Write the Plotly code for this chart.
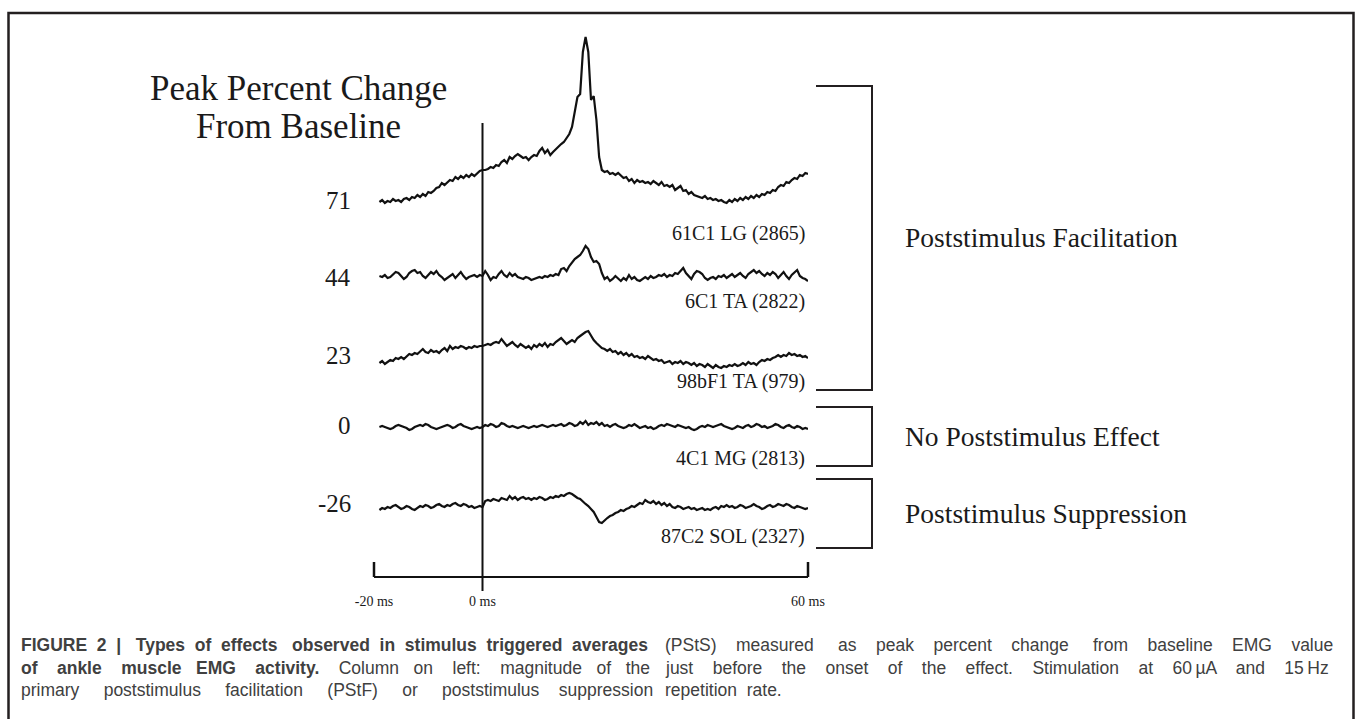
import plotly.graph_objects as go

W, H = 1355, 719

# ---------------- data (trace deflections, arbitrary units, 0.5 ms bins from -19 ms) -------------
lg_61c1 = [0, 2, -1, 1, 0, 3, 1, 2, 0, 3, 4, 2, 5, 4, 7, 5, 8, 6, 10, 9, 11, 14, 15, 19, 17, 20, 22, 21,
           25, 23, 26, 24, 27, 25, 28, 26, 29, 31, 32, 32, 33, 35, 34, 37, 36, 40, 42, 39, 45, 43, 46, 48,
           46, 44, 45, 42, 45, 47, 46, 51, 54, 49, 52, 47, 50, 53, 56, 58, 60, 64, 68, 75, 90, 105, 108,
           150, 165, 150, 102, 106, 82, 45, 32, 30, 31, 28, 29, 27, 29, 26, 24, 25, 21, 23, 19, 22, 20, 21,
           19, 20, 18, 21, 19, 17, 20, 16, 17, 15, 17, 12, 14, 16, 11, 12, 8, 10, 7, 6, 5, 4, 6, 3, 4, 2,
           3, 1, 2, 0, -1, 2, 0, 3, 1, 4, 2, 5, 3, 6, 4, 7, 5, 8, 7, 10, 9, 12, 11, 15, 17, 16, 20, 19, 22,
           24, 23, 27, 26, 29, 28]
ta_6c1 = [1, 0, 2, -1, 0, 3, 5, 4, 1, -2, 0, 4, 6, 7, 4, 5, 1, -1, 2, 5, 3, 6, 2, 0, -3, -1, 1, 3, -1,
          2, 5, 1, -2, 0, 1, 2, 0, 2, 1, 6, 2, -3, 0, -1, 3, 6, 2, 0, 4, 1, 3, 0, -1, -2, 0, -1, -3, -2,
          -1, 0, -1, 1, 0, 2, 1, 3, 2, 8, 9, 6, 11, 15, 18, 20, 22, 26, 31, 28, 20, 15, 16, 13, 4, -2, 0,
          -4, -2, 1, -2, -4, -1, -3, 2, -2, 0, -3, -4, -2, 0, -2, 1, -1, 0, 2, 1, 3, 0, 2, 1, 4, 3, 6, 9,
          4, 1, -2, 3, 6, 5, 3, -1, -3, -1, 0, -2, 1, 0, 2, -1, 1, 3, 0, 2, 4, 1, -1, 3, 5, 7, 4, 6, 3, 1,
          4, 2, 5, 3, -1, 2, 5, 1, -2, 2, 5, 7, 1, -1, -2, -4]
ta_98bf1 = [-6, -4, -7, -5, -3, -4, -1, -2, 0, -2, 1, 3, 2, 4, 3, 6, 8, 5, 4, 7, 5, 6, 4, 7, 9, 6, 11,
            8, 10, 9, 11, 10, 8, 10, 9, 11, 10, 11, 11, 12, 13, 12, 14, 15, 14, 18, 15, 11, 13, 15, 12,
            10, 13, 11, 9, 11, 8, 12, 10, 13, 11, 14, 10, 13, 12, 15, 17, 19, 16, 13, 15, 17, 15, 19, 21,
            23, 25, 26, 21, 17, 14, 11, 9, 8, 6, 8, 5, 6, 3, 5, 2, 4, 1, 3, 0, 1, -1, 0, -2, 1, -1, -3, -2,
            -4, -3, -6, -5, -4, -7, -5, -6, -4, -7, -5, -6, -8, -6, -9, -7, -8, -10, -7, -9, -11, -8, -10,
            -11, -9, -10, -8, -9, -7, -9, -8, -6, -8, -5, -7, -6, -8, -5, -3, -4, -2, -3, -1, 0, 2, 0, 2,
            1, 4, 2, 3, 1, 2, 0, 1, -1]
mg_4c1 = [0, 1, 0, -1, -2, -1, 1, 2, 1, 0, -1, -3, -2, 0, 1, 2, 1, 3, 2, 0, -1, -2, -1, 0, 1, 2, 1, -1,
          0, 2, 3, 1, 0, -1, -2, -1, 0, -1, 0, 2, 1, 3, 2, 0, 1, 4, 3, 1, 0, 1, 0, -1, 0, 1, 0, -1, 0, 1,
          0, 1, 2, 1, 0, 1, 2, 1, 2, 3, 1, 2, 4, 3, 1, 2, 5, 3, 6, 2, 4, 3, 5, 2, 4, 1, 2, 0, 2, 3, 1, 0,
          -1, 0, 2, 1, 3, 1, -1, 0, 1, -1, 0, -2, -1, 1, 2, 1, 3, 2, 1, 0, 2, 1, 0, -1, 0, -2, -3, -2, 0,
          1, 0, 2, 1, 0, 1, 2, 3, 1, 0, -1, -2, -1, 1, 0, -1, 1, 2, 0, 1, 3, 2, 0, 1, -1, 0, 1, 3, 2, 0,
          -1, 1, 2, 0, -1, 1, 0, -2, -1, -2]
sol_87c2 = [-3, -1, -2, 0, -1, 1, 2, 0, -2, -1, 1, 0, -2, -3, -1, 1, 0, 2, 1, -1, 0, 2, 3, 1, 0, 2, 1,
            3, 4, 2, 1, 3, 2, 0, 1, -1, 0, 1, 0, 6, 7, 6, 8, 7, 6, 9, 8, 7, 11, 8, 10, 7, 9, 10, 8, 9, 7,
            9, 8, 10, 9, 7, 8, 10, 9, 11, 10, 12, 11, 13, 14, 13, 11, 9, 8, 5, 3, 1, -2, -5, -10, -15,
            -16, -13, -11, -9, -8, -6, -5, -3, -4, -2, -1, 1, 0, 2, 4, 3, 7, 5, 4, 6, 3, 5, 2, 4, 1, 3,
            0, -1, 1, 0, -2, -1, 0, -2, -1, -3, -2, -1, -3, -2, -3, -1, 0, -2, 1, 0, 2, 0, 1, -1, 0, 2,
            1, -1, 0, 1, 3, 1, 0, -2, -1, 1, 2, 0, 1, 3, 2, 1, 3, 2, 0, -1, 1, 0, -1, -2, -1]

traces = [lg_61c1, ta_6c1, ta_98bf1, mg_4c1, sol_87c2]
trace_names = ["61C1 LG (2865)", "6C1 TA (2822)", "98bF1 TA (979)", "4C1 MG (2813)", "87C2 SOL (2327)"]
peak_change = ["71", "44", "23", "0", "-26"]
row_offsets = [517, 442, 362, 292, 212]          # vertical stacking of the traces
time_ticks = [-20, 0, 60]
time_tick_labels = ["-20 ms", "0 ms", "60 ms"]
groups = ["Poststimulus Facilitation", "No Poststimulus Effect", "Poststimulus Suppression"]

# ---------------- figure -------------------------------------------------------------------------
fig = go.Figure()
for vals, off, name in zip(traces, row_offsets, trace_names):
    t = [-19 + 0.5 * i for i in range(len(vals))]
    fig.add_trace(go.Scatter(x=t, y=[off + v for v in vals], mode="lines", name=name,
                             line=dict(color="#111111", width=2.2), showlegend=False, hoverinfo="skip"))


def px(x):
    return x / W


def py(y):
    return 1 - y / H


XDOM = [374 / W, 808 / W]
XRNG = [-20, 60]


def xdata_to_paper(t):
    return XDOM[0] + (t - XRNG[0]) / (XRNG[1] - XRNG[0]) * (XDOM[1] - XDOM[0])


SERIF = "Liberation Serif, Times New Roman, serif"
SANS = "Liberation Sans, Arial, sans-serif"
INK = "#1a1a1a"

shapes = []
# outer frame
shapes.append(dict(type="rect", xref="paper", yref="paper", x0=px(8.5), x1=px(1353.5), y0=py(740), y1=py(13),
                   line=dict(color="#231f20", width=2.5), fillcolor="rgba(0,0,0,0)"))
# stimulus (0 ms) line
shapes.append(dict(type="line", xref="x", yref="y", x0=0, x1=0, y0=H - 591, y1=H - 123,
                   line=dict(color="#111111", width=2)))
# end ticks of the time scale (pointing up)
for tv in (time_ticks[0], time_ticks[-1]):
    xp = xdata_to_paper(tv)
    shapes.append(dict(type="line", xref="paper", yref="paper", x0=xp, x1=xp, y0=py(577), y1=py(562),
                       line=dict(color="#111111", width=2.5)))
# brackets
for (top, bot) in [(86, 390), (407, 466), (479, 548)]:
    shapes.append(dict(type="path", xref="paper", yref="paper",
                       path=f"M {px(816)} {py(top)} L {px(872)} {py(top)} L {px(872)} {py(bot)} L {px(816)} {py(bot)}",
                       line=dict(color="#231f20", width=2)))

ann = []
ann.append(dict(text="Peak Percent Change", x=px(298), y=py(89), xanchor="center", yanchor="middle",
                font=dict(family=SERIF, size=35, color=INK)))
ann.append(dict(text="From Baseline", x=px(298), y=py(127), xanchor="center", yanchor="middle",
                font=dict(family=SERIF, size=35, color=INK)))
for lab, yy in zip(peak_change, [200, 277, 356, 425, 503]):
    ann.append(dict(text=lab, x=px(353), y=py(yy), xanchor="right", yanchor="middle",
                    font=dict(family=SERIF, size=25, color=INK)))
for lab, yy in zip(trace_names, [233, 302, 381, 458, 536]):
    ann.append(dict(text=lab, x=px(807), y=py(yy), xanchor="right", yanchor="middle",
                    font=dict(family=SERIF, size=20, color=INK)))
for lab, yy in zip(groups, [238, 436, 513]):
    ann.append(dict(text=lab, x=px(903), y=py(yy), xanchor="left", yanchor="middle",
                    font=dict(family=SERIF, size=27.5, color=INK)))


# caption (justified by widening word gaps with non-breaking spaces)
def justify(line, extra):
    parts = line.split(" ")
    out = parts[0]
    for i, p in enumerate(parts[1:]):
        k = extra[i % len(extra)]
        out += " " + "\u00a0" * k + p
    return out


CAP = dict(family=SANS, size=17.5, color="#404040")
left_lines = [
    justify("<b>FIGURE 2 | Types of effects observed in stimulus triggered averages</b>",
            [1, 1, 2, 1, 1, 2, 1, 1, 1]),
    justify("<b>of ankle muscle EMG activity.</b> Column on left: magnitude of the",
            [3, 3, 2, 3, 3, 2, 3, 3, 2, 2]),
    justify("primary poststimulus facilitation (PStF) or poststimulus suppression", [4, 4, 4, 4, 4, 3]),
]
right_lines = [
    justify("(PStS) measured as peak percent change from baseline EMG value", [3, 4, 3, 3, 3, 4, 3, 3, 3]),
    justify("just before the onset of the effect. Stimulation at 60\u2009\u00b5A and 15\u2009Hz", [3]),
    "repetition\u00a0 rate.",
]
for i, (l, r) in enumerate(zip(left_lines, right_lines)):
    yy = 645 + 22.5 * i
    ann.append(dict(text=l, x=px(19), y=py(yy), xanchor="left", yanchor="middle", font=CAP))
    ann.append(dict(text=r, x=px(663), y=py(yy), xanchor="left", yanchor="middle", font=CAP))

for a in ann:
    a.update(xref="paper", yref="paper", showarrow=False)

fig.update_layout(
    width=W, height=H, template="none",
    margin=dict(l=0, r=0, t=0, b=0, pad=0),
    paper_bgcolor="white", plot_bgcolor="rgba(0,0,0,0)",
    shapes=shapes, annotations=ann, showlegend=False,
    xaxis=dict(range=XRNG, domain=XDOM, anchor="free", position=(H - 577) / H,
               showline=True, linecolor="#111111", linewidth=2, ticks="", tickvals=time_ticks,
               ticktext=time_tick_labels, ticklabelstandoff=11,
               tickfont=dict(family=SERIF, size=14, color=INK), showgrid=False, zeroline=False,
               automargin=False, fixedrange=True),
    yaxis=dict(range=[0, H], domain=[0, 1], visible=False, showgrid=False, zeroline=False,
               automargin=False, fixedrange=True),
)

fig.write_html("out.html")
